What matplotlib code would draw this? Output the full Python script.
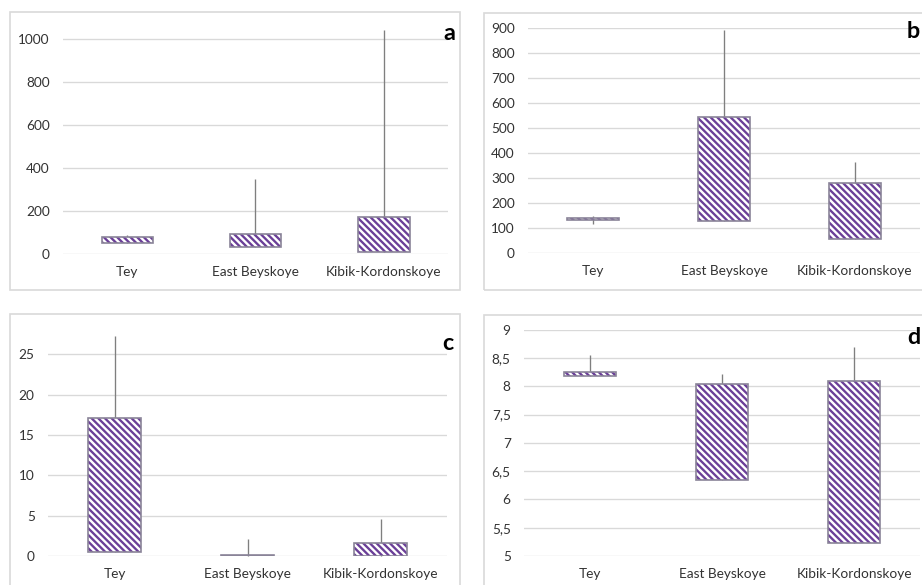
import matplotlib
matplotlib.use("Agg")
import matplotlib.pyplot as plt
from matplotlib.patches import Rectangle

plt.rcParams['font.family'] = ['Lato', 'DejaVu Sans']
plt.rcParams['hatch.linewidth'] = 1.4

W, H, DPI = 922, 585, 120

categories = ["Tey", "East Beyskoye", "Kibik-Kordonskoye"]

# box bottom / box top / whisker low / whisker high per panel
a_box_low = [50, 31, 8]
a_box_high = [78, 92, 172]
a_whisk_low = [50, 31, 8]
a_whisk_high = [88, 349, 1042]

b_box_low = [132, 129, 57]
b_box_high = [140, 545, 282]
b_whisk_low = [117, 129, 57]
b_whisk_high = [147, 891, 365]

c_box_low = [0.53, 0.0, 0.0]
c_box_high = [17.1, 0.15, 1.65]
c_whisk_low = [0.53, 0.0, 0.0]
c_whisk_high = [27.3, 2.15, 4.6]

d_box_low = [8.18, 6.35, 5.23]
d_box_high = [8.26, 8.04, 8.09]
d_whisk_low = [8.18, 6.35, 5.23]
d_whisk_high = [8.56, 8.22, 8.69]

a_ticks = [0, 200, 400, 600, 800, 1000]
b_ticks = [0, 100, 200, 300, 400, 500, 600, 700, 800, 900]
c_ticks = [0, 5, 10, 15, 20, 25]
d_ticks = [5, 5.5, 6, 6.5, 7, 7.5, 8, 8.5, 9]
d_tick_labels = ["5", "5,5", "6", "6,5", "7", "7,5", "8", "8,5", "9"]

hatch_col = "#6b3f98"
edge_col = "#8a8498"
grid_col = "#d9d9d9"
text_col = "#333333"

fig = plt.figure(figsize=(W / DPI, H / DPI), dpi=DPI)


def rect(l, r, top, bottom):
    return [l / W, 1 - bottom / H, (r - l) / W, (bottom - top) / H]


def frame(l, r, top, bottom):
    fig.add_artist(Rectangle((l / W, 1 - bottom / H), (r - l) / W, (bottom - top) / H,
                             transform=fig.transFigure, fill=False,
                             edgecolor=grid_col, lw=1.0))


def panel(pos, lo, hi, wlo, whi, ylim, ticks, tick_labels=None):
    ax = fig.add_axes(pos)
    x = list(range(len(categories)))
    heights = [h - l for l, h in zip(lo, hi)]
    ax.vlines(x, wlo, whi, color="#7f7f7f", lw=0.8, zorder=2, clip_on=False)
    ax.bar(x, heights, bottom=lo, width=0.4, color="white", hatch="\\" * 6,
           edgecolor=hatch_col, linewidth=0, zorder=3)
    ax.bar(x, heights, bottom=lo, width=0.4, fill=False,
           edgecolor=edge_col, linewidth=1.0, zorder=4)
    ax.set_xlim(-0.5, 2.5)
    ax.set_ylim(*ylim)
    ax.set_yticks(ticks)
    if tick_labels is not None:
        ax.set_yticklabels(tick_labels)
    ax.set_xticks(x)
    ax.set_xticklabels(categories)
    ax.grid(axis="y", color=grid_col, lw=0.8)
    ax.set_axisbelow(True)
    for s in ax.spines.values():
        s.set_visible(False)
    ax.tick_params(axis="y", length=0, pad=8, labelsize=8.2, labelcolor=text_col)
    ax.tick_params(axis="x", length=0, pad=7, labelsize=8.2, labelcolor=text_col)
    return ax


frame(10, 460, 12, 290)
frame(484, 940, 13, 290)
frame(10, 460, 314, 600)
frame(484, 940, 315, 600)

panel(rect(63, 448, 254 - 1080 * 0.215, 254), a_box_low, a_box_high,
      a_whisk_low, a_whisk_high, (0, 1080), a_ticks)
panel(rect(528, 920, 27.7, 253.3), b_box_low, b_box_high,
      b_whisk_low, b_whisk_high, (0, 900), b_ticks)
panel(rect(48, 447, 556 - 28 * 8.067, 556), c_box_low, c_box_high,
      c_whisk_low, c_whisk_high, (0, 28), c_ticks)
panel(rect(524, 920, 329.7, 556), d_box_low, d_box_high,
      d_whisk_low, d_whisk_high, (5, 9), d_ticks, d_tick_labels)

for lab, px, py, ha in [("a", 449, 33, "center"), ("b", 920, 32, "right"),
                        ("c", 448, 344, "center"), ("d", 920, 337, "right")]:
    fig.text(px / W, 1 - py / H, lab, fontsize=14, fontweight="bold",
             ha=ha, va="center", color="black")

fig.savefig("out.png", dpi=DPI)
